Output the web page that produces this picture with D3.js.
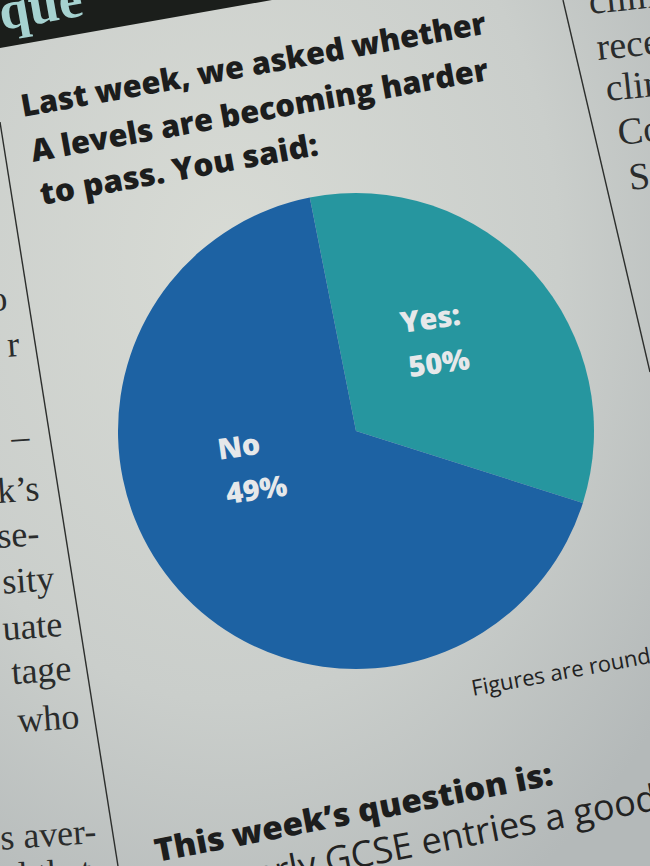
<!DOCTYPE html>
<html>
<head>
<meta charset="utf-8">
<script src="https://cdn.jsdelivr.net/npm/d3@7"></script>
<style>
html,body{margin:0;padding:0;background:#c4c8c5;}
svg{display:block;}
</style>
</head>
<body>
<div id="chart"></div>
<script>
// ---- data ----
const categories = ["Yes", "No"];
const labelPercents = [50, 49];          // printed figures
const sliceShares = [33, 67];            // visual arc shares as drawn in the picture (%)
const titleLines = ["Last week, we asked whether", "A levels are becoming harder", "to pass. You said:"];
const footnote = "Figures are rounded";
const nextTitle = "This week\u2019s question is:";
const nextQuestion = "Are early GCSE entries a good";
const leftColumn = ["o", "r", "\u2013", "k\u2019s", "se-", "sity", "uate", "tage", "who", "s aver-", "l that"];
const rightColumn = ["clim", "recei", "clima", "Co", "Se"];

const W = 650, H = 866;
const svg = d3.select("#chart").append("svg").attr("width", W).attr("height", H);

// paper background with soft lighting
const defs = svg.append("defs");
const bg = defs.append("radialGradient").attr("id", "paper").attr("cx", "35%").attr("cy", "30%").attr("r", "85%");
bg.append("stop").attr("offset", "0%").attr("stop-color", "#d8dbd5");
bg.append("stop").attr("offset", "60%").attr("stop-color", "#cacecb");
bg.append("stop").attr("offset", "100%").attr("stop-color", "#b4b9b9");
svg.append("rect").attr("width", W).attr("height", H).attr("fill", "url(#paper)");

// dark header band, top-left
svg.append("path").attr("d", "M0,0 L272,0 L0,48 Z").attr("fill", "#1b1e1b");
svg.append("text").text("que")
  .attr("transform", "translate(2,30) rotate(-10)")
  .attr("font-family", "Liberation Serif, serif").attr("font-weight", 700)
  .attr("font-size", 54).attr("fill", "#a6d2d0");

// column rules
svg.append("line").attr("x1", 0).attr("y1", 122).attr("x2", 118).attr("y2", 866)
  .attr("stroke", "#2c2e2c").attr("stroke-width", 1.4);
svg.append("line").attr("x1", 563).attr("y1", 0).attr("x2", 650).attr("y2", 372)
  .attr("stroke", "#2c2e2c").attr("stroke-width", 1.4);

// left column serif fragments (right-aligned to their visible ends)
const leftEnds = [[8, 310], [20, 356], [30, 448], [40, 500], [40, 545], [55, 590], [63, 636], [72, 680], [80, 728], [97, 843], [92, 882]];
svg.append("g").selectAll("text").data(leftColumn).join("text")
  .text(d => d)
  .attr("transform", (d, i) => `translate(${leftEnds[i][0]},${leftEnds[i][1]}) rotate(-4)`)
  .attr("text-anchor", "end")
  .attr("font-family", "Liberation Serif, serif").attr("font-size", 36).attr("fill", "#2a2c2c");

// right column fragments
const rightStarts = [[590, 14], [598, 60], [607, 101], [619, 145], [630, 190]];
svg.append("g").selectAll("text").data(rightColumn).join("text")
  .text(d => d)
  .attr("transform", (d, i) => `translate(${rightStarts[i][0]},${rightStarts[i][1]}) rotate(-6)`)
  .attr("font-family", "Liberation Serif, serif").attr("font-size", 38).attr("fill", "#2a2c2c");

// title
const titlePos = [[23, 117, 472], [33, 162, 464], [42, 205, 282]];
svg.append("g").selectAll("text").data(titleLines).join("text")
  .text(d => d)
  .attr("transform", (d, i) => `translate(${titlePos[i][0]},${titlePos[i][1]}) rotate(-10.2)`)
  .attr("textLength", (d, i) => titlePos[i][2])
  .attr("lengthAdjust", "spacingAndGlyphs")
  .attr("font-family", "Open Sans, sans-serif").attr("font-weight", 800)
  .attr("font-size", 31).attr("fill", "#1c1d1d");

// ---- pie ----
const cx = 356, cy = 431, R = 238;
const startA = -11.2 * Math.PI / 180;
const pie = d3.pie().sort(null).value(d => d.share)
  .startAngle(startA).endAngle(startA + 2 * Math.PI);
const data = categories.map((c, i) => ({ cat: c, share: sliceShares[i], pct: labelPercents[i] }));
const arcs = pie(data);
const arc = d3.arc().innerRadius(0).outerRadius(R);
const color = d3.scaleOrdinal().domain(categories).range(["#26969f", "#1d62a3"]);

const g = svg.append("g").attr("transform", `translate(${cx},${cy})`);
g.selectAll("path").data(arcs).join("path")
  .attr("d", arc).attr("fill", d => color(d.data.cat));

const labelArc = d3.arc();
const labelR = [122, 104];
const labelShift = [[-6, -10], [-20, -34]];
const lab = g.selectAll("g.lab").data(arcs).join("g").attr("class", "lab")
  .attr("transform", (d, i) => {
    const c = labelArc.innerRadius(labelR[i]).outerRadius(labelR[i]).centroid(d);
    return `translate(${c[0] + labelShift[i][0]},${c[1] + labelShift[i][1]}) rotate(-8)`;
  });
lab.append("text").text(d => d.data.cat + (d.data.cat === "Yes" ? ":" : ""))
  .attr("x", -38).attr("y", -12)
  .attr("font-family", "Open Sans, sans-serif").attr("font-weight", 800)
  .attr("font-size", 29).attr("fill", "#e6e8ea");
lab.append("text").text(d => d.data.pct + "%")
  .attr("x", -36).attr("y", 33)
  .attr("font-family", "Open Sans, sans-serif").attr("font-weight", 800)
  .attr("font-size", 29).attr("fill", "#e6e8ea");

// footnote
svg.append("text").text(footnote)
  .attr("transform", "translate(473,696) rotate(-10.5)")
  .attr("font-family", "Open Sans, sans-serif").attr("font-size", 22).attr("fill", "#222");

// next question
svg.append("text").text(nextTitle)
  .attr("transform", "translate(157,862) rotate(-11)")
  .attr("textLength", 405).attr("lengthAdjust", "spacingAndGlyphs")
  .attr("font-family", "Open Sans, sans-serif").attr("font-weight", 800)
  .attr("font-size", 32).attr("fill", "#1c1d1d");
svg.append("text").text(nextQuestion)
  .attr("transform", "translate(172,904) rotate(-11)")
  .attr("font-family", "Open Sans, sans-serif")
  .attr("font-size", 36).attr("fill", "#222");
</script>
</body>
</html>
